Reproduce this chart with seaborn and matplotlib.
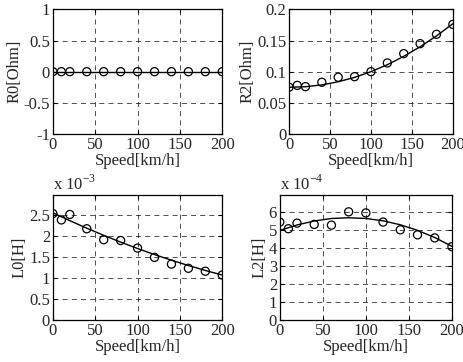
import matplotlib
matplotlib.use("Agg")
import matplotlib.pyplot as plt
from matplotlib import font_manager
import seaborn as sns
import pandas as pd

# measured points
speed = [0, 10, 20, 40, 60, 80, 100, 120, 140, 160, 180, 200]
r0 = [0, 0, 0, 0, 0, 0, 0, 0, 0, 0, 0, 0]
r2 = [0.075, 0.078, 0.076, 0.083, 0.091, 0.092, 0.100, 0.114, 0.129, 0.145, 0.160, 0.176]
l0 = [2.53, 2.38, 2.51, 2.17, 1.91, 1.89, 1.71, 1.49, 1.33, 1.23, 1.16, 1.07]   # x 1e-3
l2 = [5.45, 5.08, 5.39, 5.32, 5.28, 6.02, 5.96, 5.45, 5.02, 4.74, 4.57, 4.08]   # x 1e-4

# fitted curves
speed_fit = [0, 20, 40, 60, 80, 100, 120, 140, 160, 180, 200]
r0_fit = [0, 0, 0, 0, 0, 0, 0, 0, 0, 0, 0]
r2_fit = [0.0750, 0.0758, 0.0788, 0.0838, 0.0908, 0.1000, 0.1112, 0.1246, 0.1400, 0.1574, 0.1770]
l0_fit = [2.550, 2.362, 2.184, 2.014, 1.852, 1.700, 1.556, 1.422, 1.296, 1.178, 1.070]
l2_fit = [4.98, 5.29, 5.51, 5.65, 5.69, 5.65, 5.52, 5.30, 4.99, 4.59, 4.10]

sns.set_theme(style="white")

# pick a Times-like serif if one is installed
serif = 'DejaVu Serif'
names = sorted(set(f.name for f in font_manager.fontManager.ttflist))
for cand in ['Liberation Serif', 'Times New Roman', 'Nimbus Roman', 'TeX Gyre Termes']:
    hits = [n for n in names if cand.lower() in n.lower()]
    if hits:
        serif = hits[0]
        break
plt.rcParams['font.family'] = [serif, 'DejaVu Serif']
plt.rcParams['mathtext.fontset'] = 'custom'
plt.rcParams['mathtext.rm'] = serif

fig = plt.figure(figsize=(4.64, 3.62), dpi=100)

panels = [
    ([0.114, 0.630, 0.365, 0.344], r0, r0_fit, 'R0[Ohm]', (-1, 1), [-1, -0.5, 0, 0.5, 1], ['-1', '-0.5', '0', '0.5', '1'], None),
    ([0.623, 0.630, 0.353, 0.344], r2, r2_fit, 'R2[Ohm]', (0, 0.2), [0, 0.05, 0.1, 0.15, 0.2], ['0', '0.05', '0.1', '0.15', '0.2'], None),
    ([0.114, 0.116, 0.365, 0.345], l0, l0_fit, 'L0[H]', (0, 2.97), [0, 0.5, 1, 1.5, 2, 2.5], ['0', '0.5', '1', '1.5', '2', '2.5'], '-3'),
    ([0.603, 0.116, 0.371, 0.345], l2, l2_fit, 'L2[H]', (0, 6.95), [0, 1, 2, 3, 4, 5, 6], ['0', '1', '2', '3', '4', '5', '6'], '-4'),
]

for rect, y, yfit, ylabel, ylim, yticks, yticklabels, scale in panels:
    ax = fig.add_axes(rect)
    df_pts = pd.DataFrame({'speed': speed, 'value': y})
    df_fit = pd.DataFrame({'speed': speed_fit, 'value': yfit})
    sns.lineplot(data=df_fit, x='speed', y='value', ax=ax, color='black', linewidth=1.0)
    sns.scatterplot(data=df_pts, x='speed', y='value', ax=ax, marker='o', s=34,
                    facecolor='none', edgecolor='black', linewidth=0.9, zorder=3)
    ax.set_xlim(0, 200)
    ax.set_ylim(*ylim)
    ax.set_xticks([0, 50, 100, 150, 200])
    ax.set_xticklabels(['0', '50', '100', '150', '200'])
    ax.set_yticks(yticks)
    ax.set_yticklabels(yticklabels)
    ax.set_xlabel('Speed[km/h]', fontsize=12, labelpad=0)
    ax.set_ylabel(ylabel, fontsize=12, labelpad=1)
    ax.tick_params(direction='in', length=3, width=0.8, labelsize=12, pad=2,
                   top=True, right=True, bottom=True, left=True, color='black')
    ax.grid(True, color='black', linestyle=(0, (6, 5)), linewidth=0.6, alpha=0.8)
    for s in ax.spines.values():
        s.set_color('black')
        s.set_linewidth(0.9)
    if scale is not None:
        ax.text(0.0, 1.01, r'x 10$^{' + scale + '}$', transform=ax.transAxes,
                fontsize=12, ha='left', va='bottom')

fig.savefig('out.png', dpi=100)
